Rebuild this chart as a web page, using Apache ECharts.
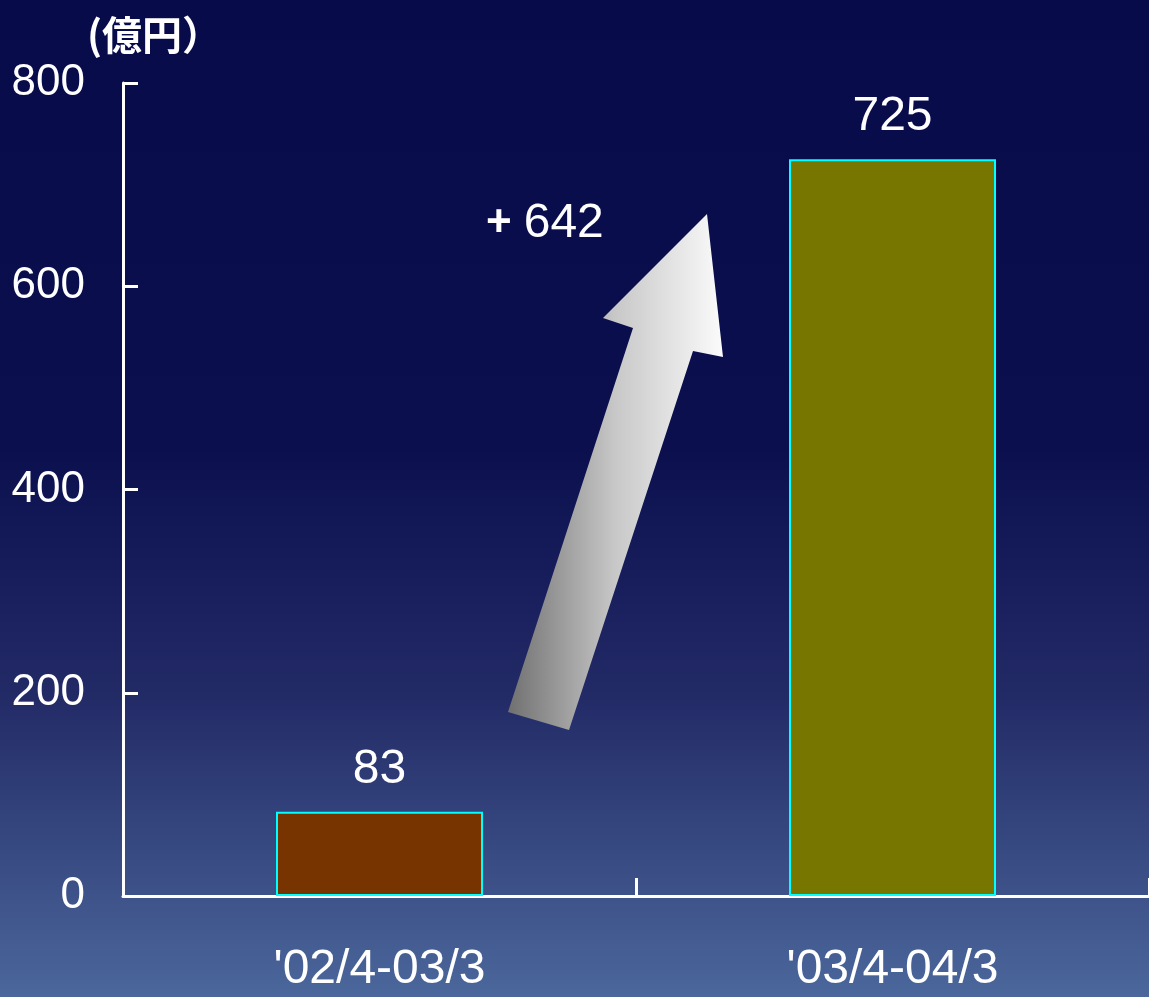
<!DOCTYPE html>
<html>
<head>
<meta charset="utf-8">
<script src="https://cdn.jsdelivr.net/npm/echarts@6/dist/echarts.min.js"></script>
<style>
  html, body { margin: 0; padding: 0; }
  #main { width: 1149px; height: 997px; }
</style>
</head>
<body>
<div id="main"></div>
<script>
// data
const categories = ["'02/4-03/3", "'03/4-04/3"];
const values = [83, 725];
const barColors = ['#773300', '#767600'];
const diffLabel = '642';
const yTicks = { min: 0, max: 800, step: 200 };

const narrow = "'Liberation Sans Narrow', 'Arial Narrow', 'Liberation Sans', sans-serif";

let chart = echarts.init(document.getElementById('main'));

let option = {
  backgroundColor: new echarts.graphic.LinearGradient(0, 0, 0, 1, [
    { offset: 0, color: '#070b4a' },
    { offset: 0.45, color: '#0b0f4e' },
    { offset: 0.7, color: '#232b67' },
    { offset: 1, color: '#4b679b' }
  ]),
  title: {
    text: '(億円）',
    left: 82,
    top: 10,
    textStyle: {
      color: '#fff',
      fontSize: 40,
      fontWeight: 'bold',
      fontFamily: "'Noto Sans CJK JP', sans-serif"
    }
  },
  grid: { left: 123, right: 0, top: 83, bottom: 101 },
  xAxis: {
    type: 'category',
    data: categories,
    axisLine: { lineStyle: { color: '#fff', width: 3 } },
    axisTick: {
      show: true,
      interval: 0,
      alignWithLabel: false,
      inside: true,
      length: 18,
      lineStyle: { color: '#fff', width: 3 }
    },
    axisLabel: {
      color: '#fff',
      fontSize: 48,
      fontFamily: narrow,
      margin: 50
    }
  },
  yAxis: {
    type: 'value',
    min: yTicks.min,
    max: yTicks.max,
    interval: yTicks.step,
    splitLine: { show: false },
    axisLine: { show: true, lineStyle: { color: '#fff', width: 3 } },
    axisTick: { show: true, inside: true, length: 15, lineStyle: { color: '#fff', width: 3 } },
    axisLabel: {
      color: '#fff',
      fontSize: 44,
      fontFamily: narrow,
      margin: 38
    }
  },
  series: [
    {
      type: 'bar',
      barWidth: 207,
      data: values.map((v, i) => ({
        value: v,
        itemStyle: { color: barColors[i] }
      })),
      itemStyle: { borderColor: '#00ffff', borderWidth: 2 },
      label: {
        show: true,
        position: 'top',
        distance: 18,
        color: '#fff',
        fontSize: 48,
        fontFamily: narrow
      }
    }
  ],
  graphic: [
    {
      // 増加を示す矢印（装飾）
      type: 'polygon',
      shape: {
        points: [
          [508, 712], [633, 328], [603, 318], [707, 214],
          [723, 357], [693, 351], [569, 730]
        ]
      },
      style: {
        fill: new echarts.graphic.LinearGradient(0, 0, 1, 0, [
          { offset: 0, color: '#707070' },
          { offset: 0.5, color: '#c8c8c8' },
          { offset: 1, color: '#fbfbfb' }
        ])
      }
    },
    {
      type: 'text',
      left: 486,
      top: 200,
      style: {
        text: '{p|+}{n|' + diffLabel + '}',
        rich: {
          p: { fill: '#fff', fontSize: 44, fontWeight: 'bold', fontFamily: "'Liberation Sans', sans-serif", padding: [0, 12, 0, 0] },
          n: { fill: '#fff', fontSize: 48, fontFamily: narrow }
        }
      }
    }
  ]
};

chart.setOption(option);
</script>
</body>
</html>
